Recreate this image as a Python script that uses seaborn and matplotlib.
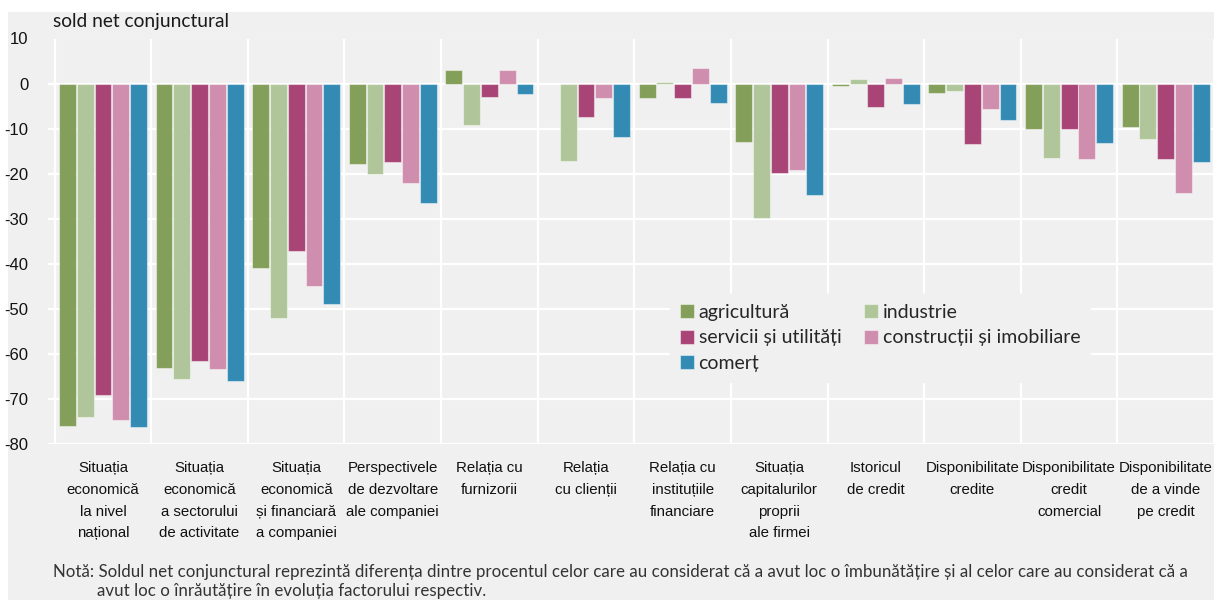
import numpy as np
import pandas as pd
import matplotlib.pyplot as plt
import seaborn as sns
from matplotlib.patches import Rectangle

factors = [
    "Situația\neconomică\nla nivel\nnațional",
    "Situația\neconomică\na sectorului\nde activitate",
    "Situația\neconomică\nși financiară\na companiei",
    "Perspectivele\nde dezvoltare\nale companiei",
    "Relația cu\nfurnizorii",
    "Relația\ncu clienții",
    "Relația cu\ninstituțiile\nfinanciare",
    "Situația\ncapitalurilor\nproprii\nale firmei",
    "Istoricul\nde credit",
    "Disponibilitate\ncredite",
    "Disponibilitate\ncredit\ncomercial",
    "Disponibilitate\nde a vinde\npe credit",
]

sectors = ["agricultură", "industrie", "servicii și utilități", "construcții și imobiliare", "comerț"]

agricultura = [-76.0, -63.1, -40.9, -17.8, 3.0, 0.0, -3.1, -12.9, -0.5, -2.1, -10.0, -9.6]
industrie = [-74.0, -65.5, -52.0, -20.0, -9.3, -17.2, 0.3, -29.8, 1.0, -1.6, -16.5, -12.2]
servicii = [-69.2, -61.6, -37.2, -17.3, -3.0, -7.4, -3.2, -19.8, -5.2, -13.4, -10.1, -16.8]
constructii = [-74.7, -63.3, -44.9, -22.1, 3.0, -3.1, 3.5, -19.2, 1.2, -5.6, -16.7, -24.2]
comert = [-76.3, -66.1, -49.0, -26.4, -2.3, -11.9, -4.3, -24.8, -4.5, -8.1, -13.3, -17.3]

colors = ["#849f5a", "#b0c69a", "#a84576", "#cf8eae", "#338bb4"]

yticks = list(range(-80, 11, 10))

note_line1 = ("Notă: Soldul net conjunctural reprezintă diferența dintre procentul celor care au "
              "considerat că a avut loc o îmbunătățire și al celor care au considerat că a")
note_line2 = "avut loc o înrăutățire în evoluția factorului respectiv."

series = [agricultura, industrie, servicii, constructii, comert]
df = pd.DataFrame({
    "factor": factors * len(sectors),
    "sector": [s for s in sectors for _ in factors],
    "value": [v for vals in series for v in vals],
})

bg = "#f0f0f0"
sns.set_theme(style="whitegrid", rc={
    "axes.facecolor": bg,
    "grid.color": "white",
    "grid.linewidth": 1.6,
})
plt.rcParams["font.family"] = ["Lato", "DejaVu Sans"]
narrow = ["Liberation Sans", "DejaVu Sans"]

fig = plt.figure(figsize=(12.14, 6), dpi=100, facecolor="white")
fig.patches.append(Rectangle((8 / 1214, 0), 1, 1 - 12 / 600, transform=fig.transFigure,
                             facecolor=bg, edgecolor="none", zorder=-10))
ax = fig.add_axes([48 / 1214, 1 - 444 / 600, 1 - 48 / 1214, (444 - 38.5) / 600])

sns.barplot(data=df, x="factor", y="value", hue="sector", hue_order=sectors,
            palette=dict(zip(sectors, colors)), saturation=1, width=0.92, gap=0.05,
            edgecolor=(1, 1, 1, 0.45), linewidth=0.8, ax=ax)

ax.set_xlim(-0.569, 11.47)
ax.set_ylim(-80, 10)
ax.set_yticks(yticks)
ax.set_yticklabels([str(t) for t in yticks], family=narrow, fontsize=12, color="#111111")
ax.set_xticks(np.arange(-0.5, 12, 1), minor=True)
ax.grid(False, axis="x", which="major")
ax.grid(True, axis="x", which="minor")
ax.grid(True, axis="y", which="major")
ax.set_axisbelow(True)
ax.tick_params(axis="both", which="both", length=0)
ax.tick_params(axis="y", pad=14)
ax.tick_params(axis="x", pad=12)
for lab in ax.get_xticklabels():
    lab.set_family(narrow)
    lab.set_fontsize(10.8)
    lab.set_color("#111111")
    lab.set_linespacing(1.72)
ax.set_xlabel("")
ax.set_ylabel("")
for sp in ax.spines.values():
    sp.set_visible(False)

handles, labels = ax.get_legend_handles_labels()
order = [0, 2, 4, 1, 3]
ax.legend([handles[i] for i in order], [labels[i] for i in order], ncol=2,
          loc="upper left", bbox_to_anchor=(670 / 1214, 1 - 294 / 600),
          bbox_transform=fig.transFigure, frameon=True, facecolor=bg, edgecolor=bg,
          framealpha=1, fancybox=False, fontsize=14, handlelength=0.72, handleheight=0.72,
          handletextpad=0.25, labelspacing=0.45, columnspacing=1.15, borderpad=0.5,
          borderaxespad=0)

fig.text(53 / 1214, 1 - 22 / 600, "sold net conjunctural", fontsize=13.8, color="#1a1a1a",
         va="center", ha="left")
fig.text(53 / 1214, 1 - 572 / 600, note_line1, fontsize=12.2, color="#333333",
         va="center", ha="left")
fig.text(97 / 1214, 1 - 591 / 600, note_line2, fontsize=12.2, color="#333333",
         va="center", ha="left")

fig.savefig("out.png", dpi=100, facecolor="white")
